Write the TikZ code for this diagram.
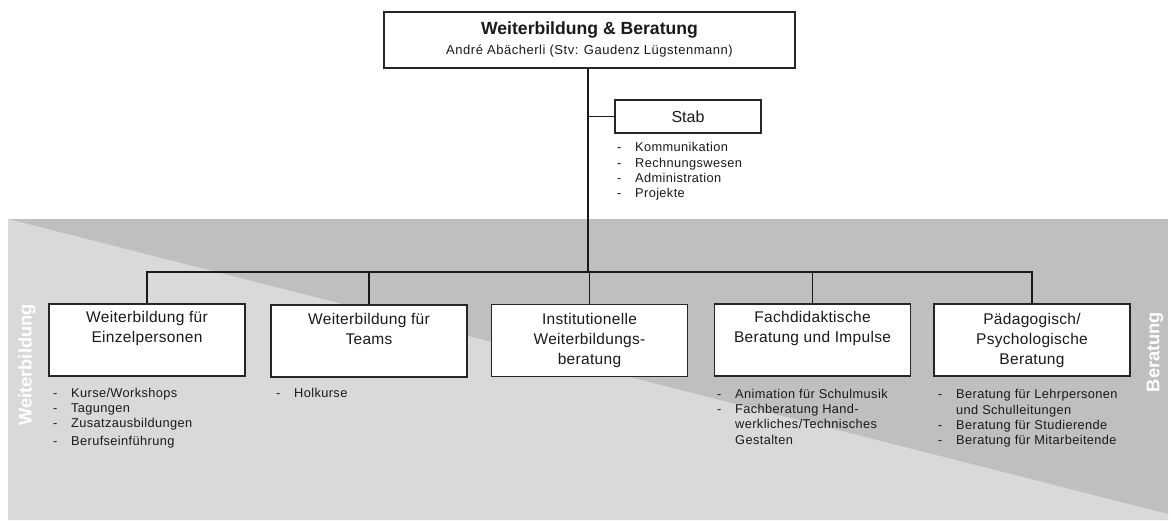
\documentclass[tikz,border=0pt]{standalone}
\usepackage{fontspec}
\setmainfont{Liberation Sans}
\definecolor{lgray}{HTML}{D9D9D9}
\definecolor{dgray}{HTML}{BFBFBF}
\definecolor{txt}{HTML}{1A1A1A}
\newcommand{\itm}[1]{\makebox[18pt][l]{-}#1}
\newcommand{\cont}[1]{\hspace*{18pt}#1}
\begin{document}
\begin{tikzpicture}[x=1pt,y=-1pt,
  box/.style={draw=black!85,line width=1.2pt,fill=white,minimum width=196pt,minimum height=72pt,inner sep=0pt},
  btext/.style={anchor=north,inner sep=0pt,align=center,text=txt,font=\fontsize{15.5}{20}\selectfont\addfontfeatures{LetterSpace=2}},
  lst/.style={anchor=north west,inner sep=0pt,align=left,text=txt,font=\fontsize{12.8}{15.2}\selectfont\addfontfeatures{LetterSpace=3}},
  conn/.style={draw=black!90,line width=1.2pt},
  side/.style={text=white,font=\bfseries\fontsize{18.3}{20}\selectfont,rotate=90,inner sep=0pt}]
\useasboundingbox (0,0) rectangle (1171,520);
\fill[white] (0,0) rectangle (1171,520);
% background
\fill[dgray] (8,219) -- (1168,219) -- (1168,520) -- (8,520) -- cycle;
\fill[lgray] (8,219) -- (1168,514) -- (1168,520) -- (8,520) -- cycle;
\node[side] (wb) at (27,365) {Weiterbildung};
\node[side] (ber) at (1155,352) {Beratung};
% top
\node[draw=black!85,line width=1.2pt,fill=white,minimum width=411pt,minimum height=56pt,inner sep=0pt] (top) at (589.5,40) {};
\node[anchor=base,inner sep=0pt,text=txt,font=\bfseries\fontsize{17.6}{20}\selectfont] (title) at (589.5,34) {Weiterbildung \& Beratung};
\node[anchor=base,inner sep=0pt,text=txt,font=\fontsize{13}{15}\selectfont\addfontfeatures{LetterSpace=4}] (sub) at (589.5,54.5) {André Abächerli (Stv: Gaudenz Lügstenmann)};
% stab
\node[draw=black!85,line width=1.2pt,fill=white,minimum width=146pt,minimum height=33pt,inner sep=0pt,text=txt,font=\fontsize{16}{18}\selectfont] (stab) at (688,116.5) {Stab};
\node[lst] (stabl) at (617,142.5) {\itm{Kommunikation}\\\itm{Rechnungswesen}\\\itm{Administration}\\\itm{Projekte}};
% boxes
\node[box] (b1) at (147,340) {};
\node[box] (b2) at (369,341) {};
\node[box] (b3) at (589.5,340.5) {};
\node[box] (b4) at (812.5,340) {};
\node[box] (b5) at (1032,340) {};
% connectors
\coordinate (j0) at (588,272);
\draw[conn] (top.south -| j0) -- (j0);
\draw[conn] (stab.west -| j0) -- (stab.west);
\draw[conn] (b1.north) -- (b1.north |- j0) -- (b5.north |- j0) -- (b5.north);
\draw[conn] (b2.north |- j0) -- (b2.north);
\draw[conn] (b3.north |- j0) -- (b3.north);
\draw[conn] (b4.north |- j0) -- (b4.north);
% box texts
\node[btext] (t1) at ([yshift=-8pt]b1.north) {Weiterbildung für\\Einzelpersonen};
\node[btext] (t2) at ([yshift=-9pt]b2.north) {Weiterbildung für\\Teams};
\node[btext] (t3) at ([yshift=-9pt]b3.north) {Institutionelle\\Weiterbildungs-\\beratung};
\node[btext] (t4) at ([yshift=-8pt]b4.north) {Fachdidaktische\\Beratung und Impulse};
\node[btext] (t5) at ([yshift=-9.5pt]b5.north) {Pädagogisch/\\Psychologische\\Beratung};
% lists
\node[lst] (l1) at (53,388) {\itm{Kurse/Workshops}\\\itm{Tagungen}\\\itm{Zusatzausbildungen}\\[2pt]\itm{Berufseinführung}};
\node[lst] (l2) at (276,388) {\itm{Holkurse}};
\node[lst] (l4) at (717,389) {\itm{Animation für Schulmusik}\\\itm{Fachberatung Hand-}\\\cont{werkliches/Technisches}\\\cont{Gestalten}};
\node[lst] (l5) at (938,389.5) {\itm{Beratung für Lehrpersonen}\\\cont{und Schulleitungen}\\\itm{Beratung für Studierende}\\\itm{Beratung für Mitarbeitende}};
\end{tikzpicture}
\end{document}
